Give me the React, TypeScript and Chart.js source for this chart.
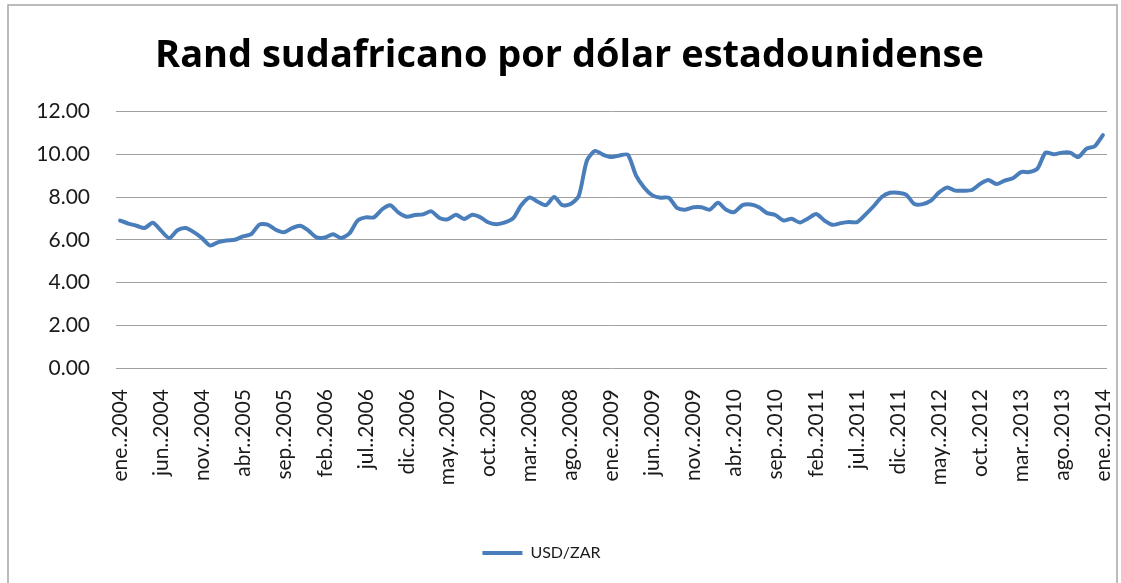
import React, { useEffect, useRef } from "react";
import { Chart, registerables } from "chart.js";

Chart.register(...registerables);

const MONTHS = ["ene", "feb", "mar", "abr", "may", "jun", "jul", "ago", "sep", "oct", "nov", "dic"];
const YEARS = [2004, 2005, 2006, 2007, 2008, 2009, 2010, 2011, 2012, 2013, 2014];

const CATEGORIES: string[] = [];
for (const y of YEARS) {
  for (const m of MONTHS) {
    if (y === 2014 && m !== "ene") continue;
    CATEGORIES.push(`${m}..${y}`);
  }
}

const USD_ZAR = [
  6.90, 6.76, 6.66, 6.55, 6.80, 6.43, 6.08, 6.45, 6.55, 6.36, 6.08, 5.73,
  5.89, 5.97, 6.00, 6.16, 6.26, 6.71, 6.71, 6.47, 6.35, 6.55, 6.66, 6.43,
  6.11, 6.11, 6.26, 6.08, 6.30, 6.90, 7.05, 7.05, 7.43, 7.62, 7.27, 7.08,
  7.16, 7.19, 7.33, 7.02, 6.96, 7.17, 6.97, 7.17, 7.05, 6.81, 6.73, 6.81,
  7.01, 7.63, 7.98, 7.78, 7.62, 8.00, 7.62, 7.67, 8.05, 9.71, 10.16, 9.98,
  9.87, 9.95, 9.98, 9.00, 8.44, 8.08, 7.97, 7.97, 7.49, 7.41, 7.52, 7.52,
  7.41, 7.73, 7.41, 7.30, 7.62, 7.65, 7.52, 7.25, 7.16, 6.90, 6.98, 6.81,
  7.00, 7.21, 6.90, 6.70, 6.78, 6.83, 6.83, 7.18, 7.57, 8.00, 8.20, 8.20,
  8.10, 7.67, 7.67, 7.83, 8.22, 8.45, 8.30, 8.30, 8.33, 8.61, 8.80, 8.61,
  8.77, 8.88, 9.17, 9.17, 9.33, 10.08, 10.00, 10.08, 10.08, 9.87, 10.27, 10.38,
  10.90,
];

const TITLE = "Rand sudafricano por dólar estadounidense";
const SERIES_NAME = "USD/ZAR";
const LABEL_EVERY = 5;

const FONT = "Lato, 'Open Sans', sans-serif";

export default function App() {
  const ref = useRef<HTMLCanvasElement | null>(null);

  useEffect(() => {
    document.body.style.margin = "0";
    const canvas = ref.current;
    if (!canvas) return;

    const framePlugin = {
      id: "frame",
      beforeDraw(chart: any) {
        const ctx = chart.ctx;
        ctx.save();
        ctx.fillStyle = "#ffffff";
        ctx.fillRect(0, 0, chart.width, chart.height);
        ctx.strokeStyle = "#a6a6a6";
        ctx.lineWidth = 1.5;
        ctx.strokeRect(8, 5, 1109, 700);
        ctx.restore();
      },
    };

    const shiftPlugin = {
      id: "shift",
      afterLayout(chart: any) {
        if (chart.titleBlock) {
          chart.titleBlock.left += 16;
          chart.titleBlock.right += 16;
        }
        if (chart.legend) {
          chart.legend.left -= 12;
          chart.legend.right -= 12;
        }
      },
    };

    const chart = new Chart(canvas, {
      type: "line",
      data: {
        labels: CATEGORIES,
        datasets: [
          {
            label: SERIES_NAME,
            data: USD_ZAR,
            borderColor: "#4a7ebb",
            backgroundColor: "#4a7ebb",
            borderWidth: 4,
            pointRadius: 0,
            tension: 0.25,
            borderJoinStyle: "round",
            borderCapStyle: "round",
          },
        ],
      },
      options: {
        animation: false,
        responsive: true,
        maintainAspectRatio: false,
        layout: { padding: { left: 0, right: 14, top: 0, bottom: 12 } },
        plugins: {
          title: {
            display: true,
            text: TITLE,
            color: "#000000",
            font: { family: "'Open Sans', Lato, sans-serif", size: 38, weight: "bold" },
            padding: { top: 33, bottom: 33 },
          },
          legend: {
            display: true,
            position: "bottom",
            labels: {
              usePointStyle: true,
              pointStyle: "line",
              pointStyleWidth: 40,
              color: "#1a1a1a",
              font: { family: FONT, size: 16 },
              padding: 10,
            },
          },
          tooltip: { enabled: false },
        },
        scales: {
          x: {
            type: "category",
            offset: true,
            grid: { display: false, drawTicks: false },
            border: { display: false },
            ticks: {
              autoSkip: false,
              minRotation: 90,
              maxRotation: 90,
              padding: 21,
              color: "#1a1a1a",
              font: { family: FONT, size: 21 },
              callback: (_v: any, i: number) => (i % LABEL_EVERY === 0 ? CATEGORIES[i] : ""),
            },
            afterFit: (scale: any) => {
              scale.height = 167;
              scale.paddingLeft = 0;
              scale.paddingRight = 0;
            },
          },
          y: {
            min: 0,
            max: 12,
            grid: { color: "#a0a0a0", lineWidth: 1, drawTicks: false },
            border: { display: false },
            ticks: {
              stepSize: 2,
              padding: 26,
              color: "#1a1a1a",
              font: { family: FONT, size: 21 },
              callback: (v: any) => Number(v).toFixed(2),
            },
            afterFit: (scale: any) => {
              scale.width = 116;
            },
          },
        },
      },
      plugins: [framePlugin, shiftPlugin],
    });

    return () => chart.destroy();
  }, []);

  return (
    <div style={{ width: 1121, height: 583, position: "relative" }}>
      <canvas ref={ref} />
    </div>
  );
}
